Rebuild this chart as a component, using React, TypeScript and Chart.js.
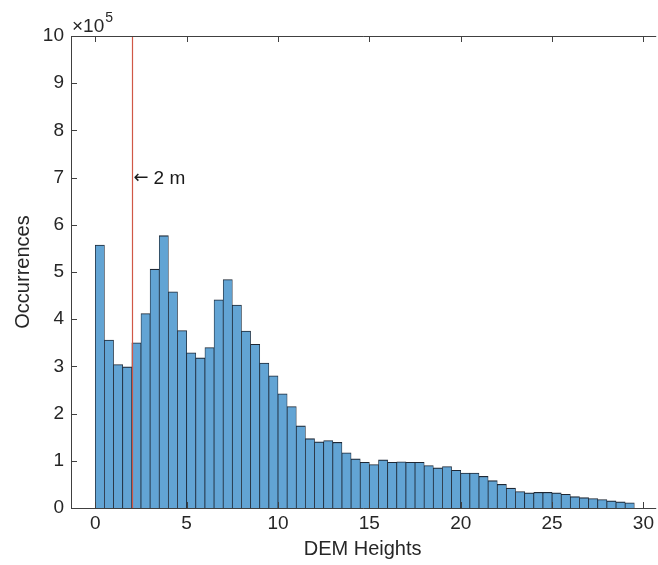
import React, { useEffect, useRef } from "react";
import { Chart, registerables } from "chart.js";

Chart.register(...registerables);

// Histogram bins (left edges, width 0.5 m)
const binStarts = [
  0, 0.5, 1, 1.5, 2, 2.5, 3, 3.5, 4, 4.5,
  5, 5.5, 6, 6.5, 7, 7.5, 8, 8.5, 9, 9.5,
  10, 10.5, 11, 11.5, 12, 12.5, 13, 13.5, 14, 14.5,
  15, 15.5, 16, 16.5, 17, 17.5, 18, 18.5, 19, 19.5,
  20, 20.5, 21, 21.5, 22, 22.5, 23, 23.5, 24, 24.5,
  25, 25.5, 26, 26.5, 27, 27.5, 28, 28.5, 29,
];
const binWidth = 0.5;

// Occurrences per bin
const counts = [
  557000, 356000, 304000, 299000, 350000, 412000, 506000, 577000, 458000, 376000,
  329000, 318000, 340000, 441000, 484000, 430000, 375000, 347000, 307000, 280000,
  242000, 215000, 174000, 147000, 140000, 143000, 139000, 117000, 104000, 97000,
  92000, 102000, 97000, 98000, 97000, 97000, 90000, 85000, 88000, 80000,
  74000, 74000, 67000, 58000, 50000, 42000, 35000, 32000, 33000, 33000,
  32000, 29000, 24000, 22000, 20000, 18000, 15000, 13000, 11000,
];

const xTicks = [0, 5, 10, 15, 20, 25, 30];
const yTicks = [0, 100000, 200000, 300000, 400000, 500000, 600000, 700000, 800000, 900000, 1000000];
const yExponent = 5;

const markerX = 2;
const markerLabelY = 700000;
const markerArrow = "\u2190";
const markerLabel = "2 m";

const xTitle = "DEM Heights";
const yTitle = "Occurrences";

const FONT = '"Liberation Sans", Arial, Helvetica, sans-serif';
const TEXT = "#262626";
const AXIS = "#404040";

const overlayPlugin = {
  id: "overlay",
  afterDatasetsDraw(chart: any) {
    const { ctx, chartArea: a, scales } = chart;
    const x = scales.x;
    const y = scales.y;
    ctx.save();

    // red marker line
    const px = Math.round(x.getPixelForValue(markerX)) + 0.5;
    ctx.strokeStyle = "rgb(208,88,70)";
    ctx.lineWidth = 1.2;
    ctx.beginPath();
    ctx.moveTo(px, a.top);
    ctx.lineTo(px, a.bottom);
    ctx.stroke();

    // axes box (left, top, bottom)
    ctx.strokeStyle = AXIS;
    ctx.lineWidth = 1;
    ctx.beginPath();
    ctx.moveTo(a.left + 0.5, a.bottom + 0.5);
    ctx.lineTo(a.left + 0.5, a.top + 0.5);
    ctx.lineTo(a.right + 2, a.top + 0.5);
    ctx.moveTo(a.left + 0.5, a.bottom + 0.5);
    ctx.lineTo(a.right + 2, a.bottom + 0.5);
    // inward ticks
    for (const v of xTicks) {
      const p = Math.round(x.getPixelForValue(v)) + 0.5;
      ctx.moveTo(p, a.bottom);
      ctx.lineTo(p, a.bottom - 6);
      ctx.moveTo(p, a.top);
      ctx.lineTo(p, a.top + 6);
    }
    for (const v of yTicks) {
      const p = Math.round(y.getPixelForValue(v)) + 0.5;
      ctx.moveTo(a.left, p);
      ctx.lineTo(a.left + 6, p);
    }
    ctx.stroke();

    // annotation
    ctx.fillStyle = "#1a1a1a";
    ctx.textAlign = "left";
    ctx.textBaseline = "middle";
    const ay = y.getPixelForValue(markerLabelY) + 1;
    ctx.font = `18px "DejaVu Sans", sans-serif`;
    ctx.fillText(markerArrow, px + 1, ay);
    const aw = ctx.measureText(markerArrow).width;
    ctx.font = `19px ${FONT}`;
    ctx.fillText(markerLabel, px + 1 + aw + 5, ay);

    // exponent label
    ctx.fillStyle = TEXT;
    ctx.textBaseline = "alphabetic";
    ctx.font = `19px ${FONT}`;
    const base = "\u00d710";
    ctx.fillText(base, a.left + 1, a.top - 4);
    const w = ctx.measureText(base).width;
    ctx.font = `14px ${FONT}`;
    ctx.fillText(String(yExponent), a.left + 1 + w + 1, a.top - 14);

    ctx.restore();
  },
};

export default function App() {
  const ref = useRef<HTMLCanvasElement | null>(null);

  useEffect(() => {
    if (!ref.current) return;
    const points = binStarts.map((s, i) => ({ x: s + binWidth / 2, y: counts[i] }));
    const chart = new Chart(ref.current, {
      type: "bar",
      data: {
        datasets: [
          {
            data: points as any,
            backgroundColor: "rgb(98,164,212)",
            borderColor: "rgba(18,28,42,0.95)",
            borderWidth: { top: 1.1, left: 0.75, right: 0.75, bottom: 0 } as any,
            borderSkipped: "bottom",
            barPercentage: 1,
            categoryPercentage: 1,
          },
        ],
      },
      options: {
        animation: false,
        responsive: false,
        devicePixelRatio: 1,
        layout: { padding: { left: 0, top: 36, right: 0, bottom: 0 } },
        plugins: {
          legend: { display: false },
          tooltip: { enabled: false },
        },
        scales: {
          x: {
            type: "linear",
            min: -1.33,
            max: 30.59,
            offset: false,
            grid: { display: false, drawTicks: false },
            border: { display: false },
            ticks: {
              padding: 4,
              color: TEXT,
              font: { family: FONT, size: 19 },
              maxRotation: 0,
              autoSkip: false,
            },
            afterBuildTicks: (s: any) => {
              s.ticks = xTicks.map((v) => ({ value: v }));
            },
            afterFit: (s: any) => {
              s.height = 57;
            },
            title: {
              display: true,
              text: xTitle,
              color: TEXT,
              font: { family: FONT, size: 20 },
              padding: { top: 0, bottom: 4 },
            },
          },
          y: {
            type: "linear",
            min: 0,
            max: 1000000,
            grid: { display: false, drawTicks: false },
            border: { display: false },
            ticks: {
              padding: 7,
              color: TEXT,
              font: { family: FONT, size: 19 },
              callback: (v: any) => String(Number(v) / Math.pow(10, yExponent)),
            },
            afterBuildTicks: (s: any) => {
              s.ticks = yTicks.map((v) => ({ value: v }));
            },
            afterFit: (s: any) => {
              s.width = 71;
            },
            title: {
              display: true,
              text: yTitle,
              color: TEXT,
              font: { family: FONT, size: 20 },
              padding: { top: 11, bottom: 0 },
            },
          },
        },
      },
      plugins: [overlayPlugin],
    });
    return () => chart.destroy();
  }, []);

  return (
    <div style={{ position: "fixed", left: 0, top: 0, width: 658, height: 565, background: "#fff" }}>
      <canvas ref={ref} width={658} height={565} style={{ display: "block" }} />
    </div>
  );
}
